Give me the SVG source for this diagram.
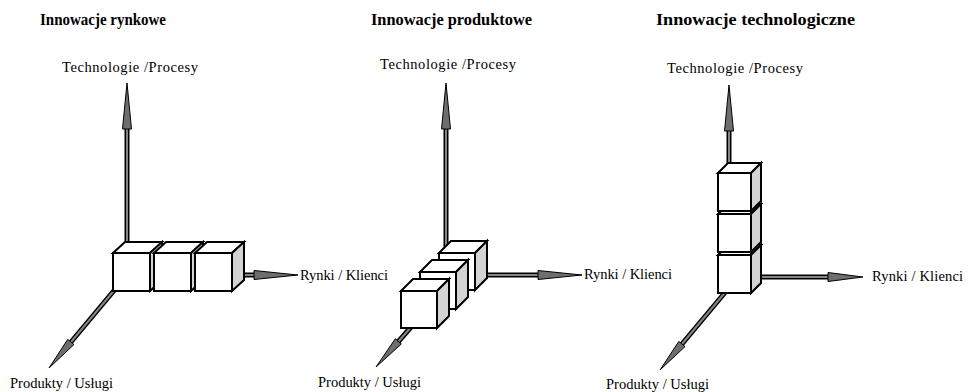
<svg xmlns="http://www.w3.org/2000/svg" width="973" height="392" viewBox="0 0 973 392">
  <style>
    .title { font-family: "Liberation Serif", "Times New Roman", serif; font-size: 17px; font-weight: bold; fill: #000; }
    .lbl { font-family: "Liberation Serif", "Times New Roman", serif; font-size: 14.5px; fill: #000; }
    .shaft { stroke: #000; stroke-width: 5; fill: none; }
    .core { stroke: #858585; stroke-width: 2; fill: none; }
    .head { fill: #6e6e6e; stroke: #000; stroke-width: 1; stroke-linejoin: miter; }
    .face { fill: #fff; stroke: #000; stroke-width: 2; stroke-linejoin: miter; }
    .side { fill: #d3d3d3; stroke: #000; stroke-width: 2; stroke-linejoin: miter; }
  </style>

  <rect width="973" height="392" fill="#fff"/>

  <!-- headings -->
  <g id="title-market"><text class="title" x="40" y="25" textLength="126" lengthAdjust="spacingAndGlyphs">Innowacje rynkowe</text></g>
  <g id="title-product"><text class="title" x="371" y="25" textLength="161" lengthAdjust="spacingAndGlyphs">Innowacje produktowe</text></g>
  <g id="title-tech"><text class="title" x="656" y="25" textLength="199" lengthAdjust="spacingAndGlyphs">Innowacje technologiczne</text></g>

  <!-- axes -->
  <g id="axes">
    <!-- set 1 -->
    <path class="shaft" d="M127,275 V127 M127,275 H255 M127,275 L71,342"/>
    <path class="core" d="M127,275 V128 M127,275 H254 M127,275 L71,342"/>
    <polygon class="head" points="127,83 131.5,129 122.5,129"/>
    <polygon class="head" points="298,275 254,270.5 254,279.5"/>
    <polygon class="head" points="49,368 73.9,344.6 67.7,339.4"/>

    <!-- set 2 -->
    <path class="shaft" d="M446,275 V127 M446,275 H539 M446,287 L398,342"/>
    <path class="core" d="M446,275 V128 M446,275 H538 M446,287 L398,342"/>
    <polygon class="head" points="446,83 450.5,129 441.5,129"/>
    <polygon class="head" points="582,275 538,270.5 538,279.5"/>
    <polygon class="head" points="376,367 401.3,344 395.3,338.8"/>

    <!-- set 3 -->
    <path class="shaft" d="M729,277 V130 M729,277 H829 M738,277 L682,344"/>
    <path class="core" d="M729,277 V131 M729,277 H828 M738,277 L682,344"/>
    <polygon class="head" points="729,85 733.5,131 724.5,131"/>
    <polygon class="head" points="863,277 828,272.5 828,281.5"/>
    <polygon class="head" points="660,370 685,346.6 678.8,341.4"/>
  </g>

  <!-- set 1 cubes: w37 h38, depth (12,-11) -->
  <g id="cube-m1">
    <rect class="face" x="113" y="253" width="37" height="38"/>
    <polygon class="face" points="113,253 125,242 162,242 150,253"/>
    <polygon class="side" points="150,253 162,242 162,280 150,291"/>
  </g>
  <g id="cube-m2">
    <rect class="face" x="154" y="253" width="37" height="38"/>
    <polygon class="face" points="154,253 166,242 203,242 191,253"/>
    <polygon class="side" points="191,253 203,242 203,280 191,291"/>
  </g>
  <g id="cube-m3">
    <rect class="face" x="195" y="253" width="37" height="38"/>
    <polygon class="face" points="195,253 207,242 244,242 232,253"/>
    <polygon class="side" points="232,253 244,242 244,280 232,291"/>
  </g>

  <!-- set 2 cubes: w36 h37, depth (12,-12), back to front -->
  <g id="cube-p3">
    <rect class="face" x="439" y="253" width="36" height="37"/>
    <polygon class="face" points="439,253 451,241 487,241 475,253"/>
    <polygon class="side" points="475,253 487,241 487,278 475,290"/>
  </g>
  <g id="cube-p2">
    <rect class="face" x="420" y="272" width="36" height="37"/>
    <polygon class="face" points="420,272 432,260 468,260 456,272"/>
    <polygon class="side" points="456,272 468,260 468,297 456,309"/>
  </g>
  <g id="cube-p1">
    <rect class="face" x="401" y="291" width="36" height="37"/>
    <polygon class="face" points="401,291 413,279 449,279 437,291"/>
    <polygon class="side" points="437,291 449,279 449,316 437,328"/>
  </g>

  <!-- set 3 cubes: w33 h38, depth (10,-10), bottom to top -->
  <g id="cube-t1">
    <rect class="face" x="718" y="255" width="33" height="38"/>
    <polygon class="face" points="718,255 728,245 761,245 751,255"/>
    <polygon class="side" points="751,255 761,245 761,283 751,293"/>
  </g>
  <g id="cube-t2">
    <rect class="face" x="718" y="214" width="33" height="38"/>
    <polygon class="face" points="718,214 728,204 761,204 751,214"/>
    <polygon class="side" points="751,214 761,204 761,242 751,252"/>
  </g>
  <g id="cube-t3">
    <rect class="face" x="718" y="173" width="33" height="38"/>
    <polygon class="face" points="718,173 728,163 761,163 751,173"/>
    <polygon class="side" points="751,173 761,163 761,201 751,211"/>
  </g>

  <!-- axis labels -->
  <g id="lbl-m-tech"><text class="lbl" x="62" y="72" textLength="136">Technologie /Procesy</text></g>
  <g id="lbl-m-market"><text class="lbl" x="300" y="280" textLength="88">Rynki / Klienci</text></g>
  <g id="lbl-m-product"><text class="lbl" x="10" y="388" textLength="103">Produkty / Usługi</text></g>

  <g id="lbl-p-tech"><text class="lbl" x="380" y="69" textLength="136">Technologie /Procesy</text></g>
  <g id="lbl-p-market"><text class="lbl" x="584" y="279" textLength="88">Rynki / Klienci</text></g>
  <g id="lbl-p-product"><text class="lbl" x="318" y="387" textLength="103">Produkty / Usługi</text></g>

  <g id="lbl-t-tech"><text class="lbl" x="667" y="73" textLength="136">Technologie /Procesy</text></g>
  <g id="lbl-t-market"><text class="lbl" x="872" y="281" textLength="91">Rynki / Klienci</text></g>
  <g id="lbl-t-product"><text class="lbl" x="606" y="389" textLength="103">Produkty / Usługi</text></g>
</svg>
